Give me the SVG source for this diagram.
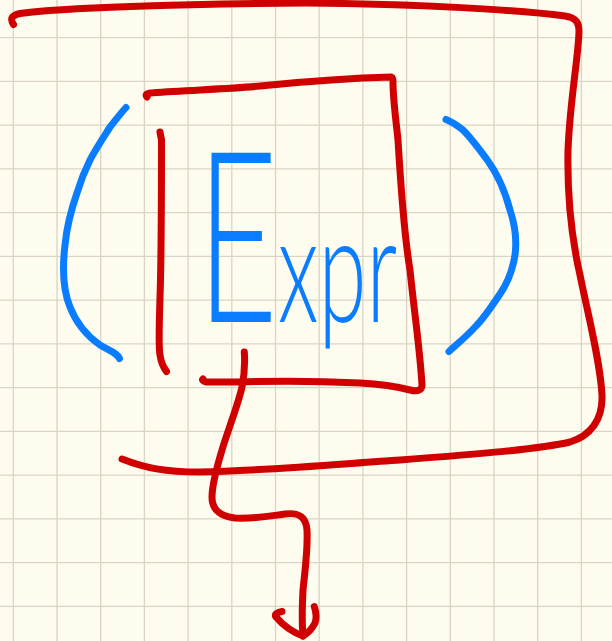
<svg xmlns="http://www.w3.org/2000/svg" width="612" height="641" viewBox="0 0 612 641">
<style>
.grid{stroke:#d9d5c4;stroke-width:1.3;fill:none}
.red{stroke:#d00000;stroke-width:7;fill:none;stroke-linecap:round;stroke-linejoin:round}
.blue{stroke:#0a7cff;stroke-width:7;fill:none;stroke-linecap:round;stroke-linejoin:round}
.label{font-family:Lato,"Open Sans","Liberation Sans",sans-serif;font-weight:300;fill:#0a7cff}
</style>
<rect width="612" height="641" fill="#fefcee"/>
<g id="grid">
<path class="grid" d="M13.3,0V641M57,0V641M100.7,0V641M144.4,0V641M188.1,0V641M231.8,0V641M275.5,0V641M319.2,0V641M362.9,0V641M406.6,0V641M450.3,0V641M494,0V641M537.7,0V641M581.4,0V641M0,37.7H612M0,81.45H612M0,125.2H612M0,168.95H612M0,212.7H612M0,256.45H612M0,300.2H612M0,343.95H612M0,387.7H612M0,431.45H612M0,475.2H612M0,518.95H612M0,562.7H612M0,606.45H612"/>
</g>
<g id="outer-loop">
<path class="red" d="M13.5,24.5 C10,19 11,15.5 20,13.5 C60,8 180,4 306,3 C420,4 520,10 565,16 C577,18 579,23 579,32 C578,60 570,100 568,150 C567,200 572,240 580,275 C588,315 600,360 602,395 C603,420 590,436 570,442 C540,449 480,454 400,460 C340,464 260,471 200,472 C165,472 145,468 122,459"/>
</g>
<g id="inner-box">
<path class="red" d="M147,97 C145,95 146,93 153,92.7 C190,90 230,89 260,86 C300,82 350,78 391,77 C393,78 393,79 393,82 C393,100 396,120 398,140 C401,190 405,240 410,270 C414,310 420,350 422,385 C422,390 418,392 410,390 C395,386 380,384 360,383 C320,381 270,381 240,382 C225,382 210,382 206,382 C203,381 202,380 203,379"/>
</g>
<g id="left-bar">
<path class="red" d="M160,132 L161.5,140 C161.5,180 161.5,230 160.5,280 C159.5,320 158,345 160,355 C161,362 163,367 166.5,371.5"/>
</g>
<g id="connectors">
<path class="red" d="M244.3,352 C245,362 245,372 242,387 C238,405 228,430 222,450 C216,470 212,485 212,497 C212,510 220,516 235,518 C255,519 270,516 285,514 C300,512 306,518 307,530 C308,550 305,570 303,590 C302,610 302,625 303,635"/>
<path class="red" d="M282,611.5 C278,612 274,614 276,617 C282,624 292,632 303,636"/>
<path class="red" d="M314.3,606.5 C316,612 317,618 315,623 C312,629 308,633 303,636"/>
</g>
<g id="left-paren">
<path class="blue" d="M126,107.5 C120,114 115,121 110,127 C103,138 95,150 90,160 C84,172 80,183 77,193 C71,210 67,225 65,245 C62,270 63,290 70,307 C77,325 90,338 100,345 C110,351 117,353 119.5,358.5"/>
</g>
<g id="right-paren">
<path class="blue" d="M446,119.5 C452,122 458,126 463,130 C472,139 480,150 488,161 C498,175 506,195 510,210 C515,225 517,240 515,255 C513,268 508,282 500,294 C492,306 484,318 476,326 C466,337 456,345 449,351.5"/>
</g>
<g id="expr">
<text class="label" transform="translate(197,322) scale(0.58,1)" x="0" y="0"><tspan font-size="240">E</tspan><tspan font-size="150">xpr</tspan></text>
</g>
</svg>
